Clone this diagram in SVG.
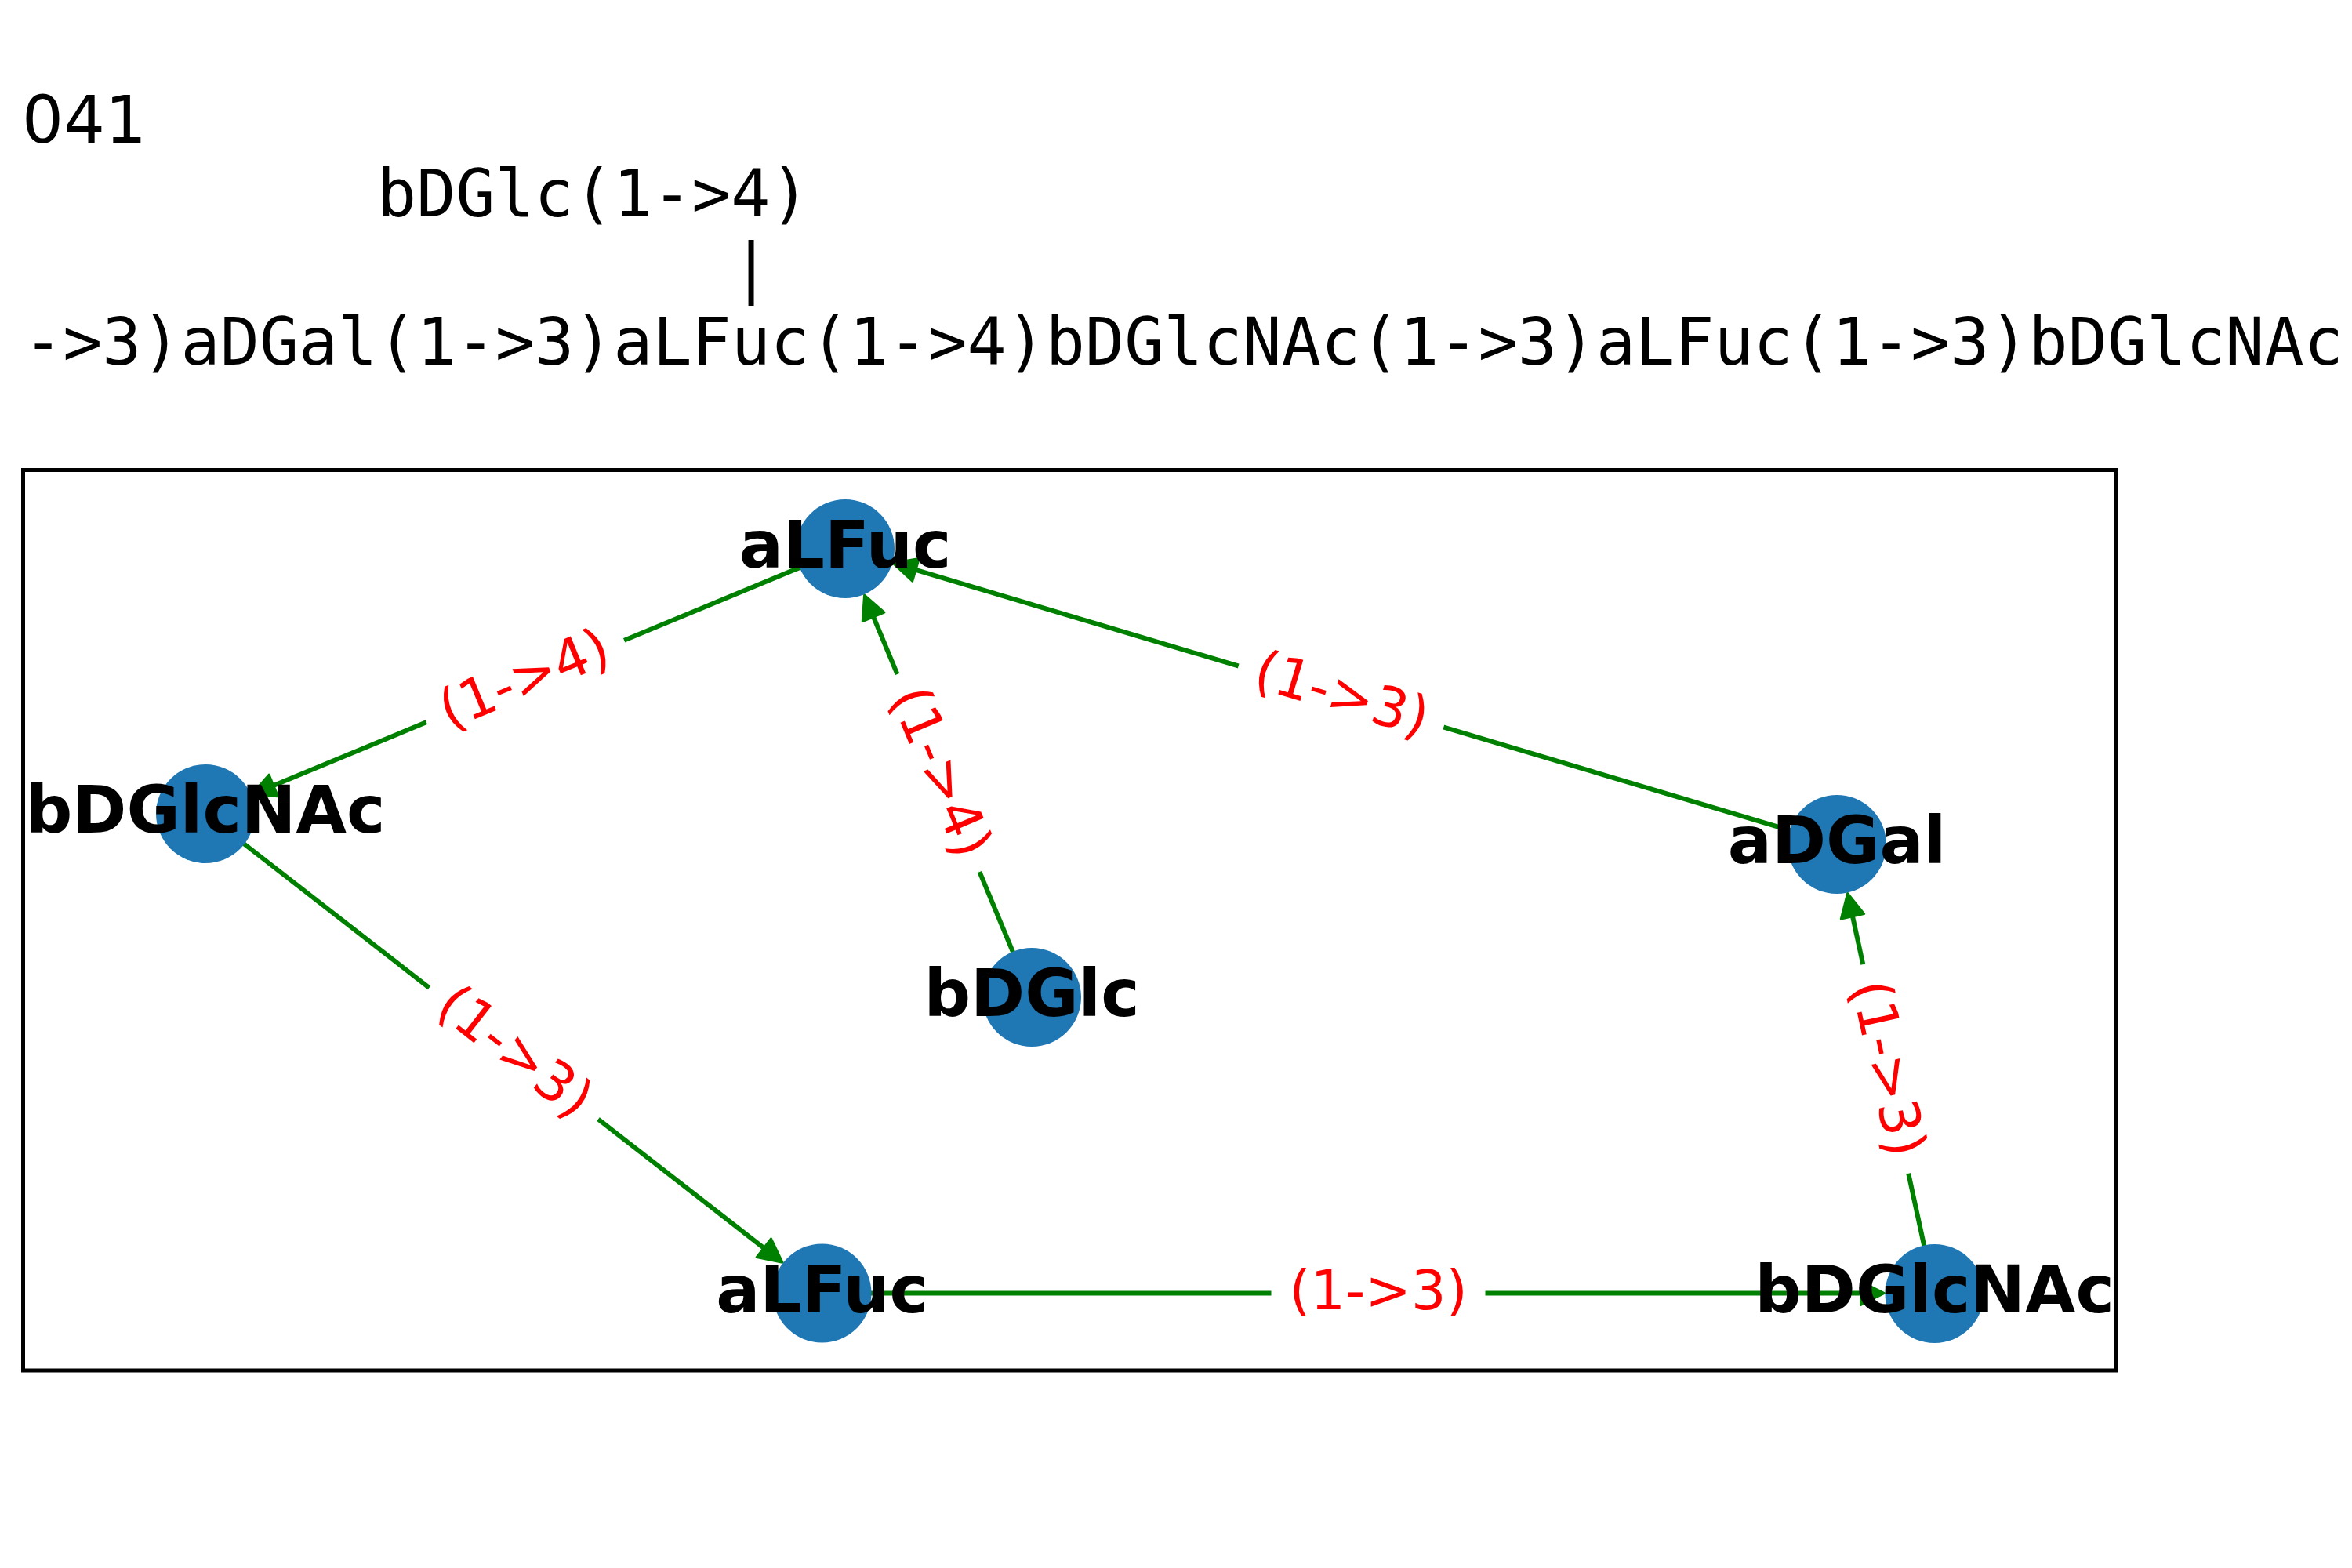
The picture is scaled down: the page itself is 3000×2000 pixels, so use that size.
<svg xmlns="http://www.w3.org/2000/svg" width="3000" height="2000" viewBox="0 0 3000 2000">
  <defs>
    <style>
      .mono { font-family: "DejaVu Sans Mono", "Liberation Mono", monospace; font-size: 83.3px; fill: #000; }
      .title { font-family: "DejaVu Sans", "Liberation Sans", sans-serif; font-size: 83.3px; fill: #000; }
      .frame { fill: none; stroke: #000; stroke-width: 5; }
      .edge { fill: none; stroke: #008000; stroke-width: 6; marker-end: url(#head); }
      .lblbox { fill: #fff; stroke: #fff; stroke-width: 1; }
      .lbl { font-family: "DejaVu Sans", "Liberation Sans", sans-serif; font-size: 70px; fill: #ff0000; text-anchor: middle; }
      .node circle { fill: #1f77b4; }
      .node text { font-family: "DejaVu Sans", "Liberation Sans", sans-serif; font-weight: bold; font-size: 83.3px; fill: #000; text-anchor: middle; }
    </style>
    <marker id="head" markerUnits="userSpaceOnUse" markerWidth="40" markerHeight="40" refX="0" refY="0" orient="auto" overflow="visible">
      <path d="M0,-15 L30,0 L0,15 Z" fill="#008000" stroke="#008000" stroke-width="3" stroke-linejoin="round"/>
    </marker>
  </defs>

  <rect width="3000" height="2000" fill="#fff"/>

  <!-- sequence header -->
  <g id="header">
    <text class="title" x="28" y="182">041</text>
    <text class="mono" x="481" y="276">bDGlc(1-&gt;4)</text>
    <text class="mono" x="933" y="370">|</text>
    <text class="mono" x="30" y="465">-&gt;3)aDGal(1-&gt;3)aLFuc(1-&gt;4)bDGlcNAc(1-&gt;3)aLFuc(1-&gt;3)bDGlcNAc</text>
  </g>

  <!-- plot frame -->
  <rect class="frame" x="29.5" y="599.5" width="2670" height="1148.5"/>

  <!-- linkages -->
  <g id="connectors">
    <g id="e-aLFuc1-bDGlcNAc1">
      <path class="edge" d="M1078,700 L348.8,1002"/>
      <g transform="translate(670,869) rotate(-22.5)">
        <rect class="lblbox" x="-136" y="-55" width="272" height="110" rx="21"/>
        <text class="lbl" y="20">(1-&gt;4)</text>
      </g>
    </g>
    <g id="e-bDGlc-aLFuc1">
      <path class="edge" d="M1316,1272 L1114.1,786.8"/>
      <g transform="translate(1197,986) rotate(67.4)">
        <rect class="lblbox" x="-136" y="-55" width="272" height="110" rx="21"/>
        <text class="lbl" y="20">(1-&gt;4)</text>
      </g>
    </g>
    <g id="e-aDGal-aLFuc1">
      <path class="edge" d="M2343,1077 L1168,726.9"/>
      <g transform="translate(1710.5,888.5) rotate(16.6)">
        <rect class="lblbox" x="-136" y="-55" width="272" height="110" rx="21"/>
        <text class="lbl" y="20">(1-&gt;3)</text>
      </g>
    </g>
    <g id="e-bDGlcNAc1-aLFuc2">
      <path class="edge" d="M262,1038 L974.3,1591.8"/>
      <g transform="translate(655,1344) rotate(37.9)">
        <rect class="lblbox" x="-136" y="-55" width="272" height="110" rx="21"/>
        <text class="lbl" y="20">(1-&gt;3)</text>
      </g>
    </g>
    <g id="e-aLFuc2-bDGlcNAc2">
      <path class="edge" d="M1048.5,1649.5 L2373.5,1649.5"/>
      <g transform="translate(1758,1649.5)">
        <rect class="lblbox" x="-136" y="-55" width="272" height="110" rx="21"/>
        <text class="lbl" y="20">(1-&gt;3)</text>
      </g>
    </g>
    <g id="e-bDGlcNAc2-aDGal">
      <path class="edge" d="M2467.5,1650 L2363,1168.8"/>
      <g transform="translate(2405,1363.5) rotate(77.7)">
        <rect class="lblbox" x="-136" y="-55" width="272" height="110" rx="21"/>
        <text class="lbl" y="20">(1-&gt;3)</text>
      </g>
    </g>
  </g>

  <!-- residues -->
  <g id="aLFuc1" class="node">
    <circle cx="1078" cy="700" r="63"/>
    <text x="1078" y="724">aLFuc</text>
  </g>
  <g id="bDGlcNAc1" class="node">
    <circle cx="262" cy="1038" r="63"/>
    <text x="262" y="1062">bDGlcNAc</text>
  </g>
  <g id="bDGlc" class="node">
    <circle cx="1316" cy="1272" r="63"/>
    <text x="1316" y="1296">bDGlc</text>
  </g>
  <g id="aDGal" class="node">
    <circle cx="2343" cy="1077" r="63"/>
    <text x="2343" y="1101">aDGal</text>
  </g>
  <g id="aLFuc2" class="node">
    <circle cx="1048.5" cy="1649.5" r="63"/>
    <text x="1048.5" y="1673.5">aLFuc</text>
  </g>
  <g id="bDGlcNAc2" class="node">
    <circle cx="2467.5" cy="1650" r="63"/>
    <text x="2467.5" y="1674">bDGlcNAc</text>
  </g>
</svg>
